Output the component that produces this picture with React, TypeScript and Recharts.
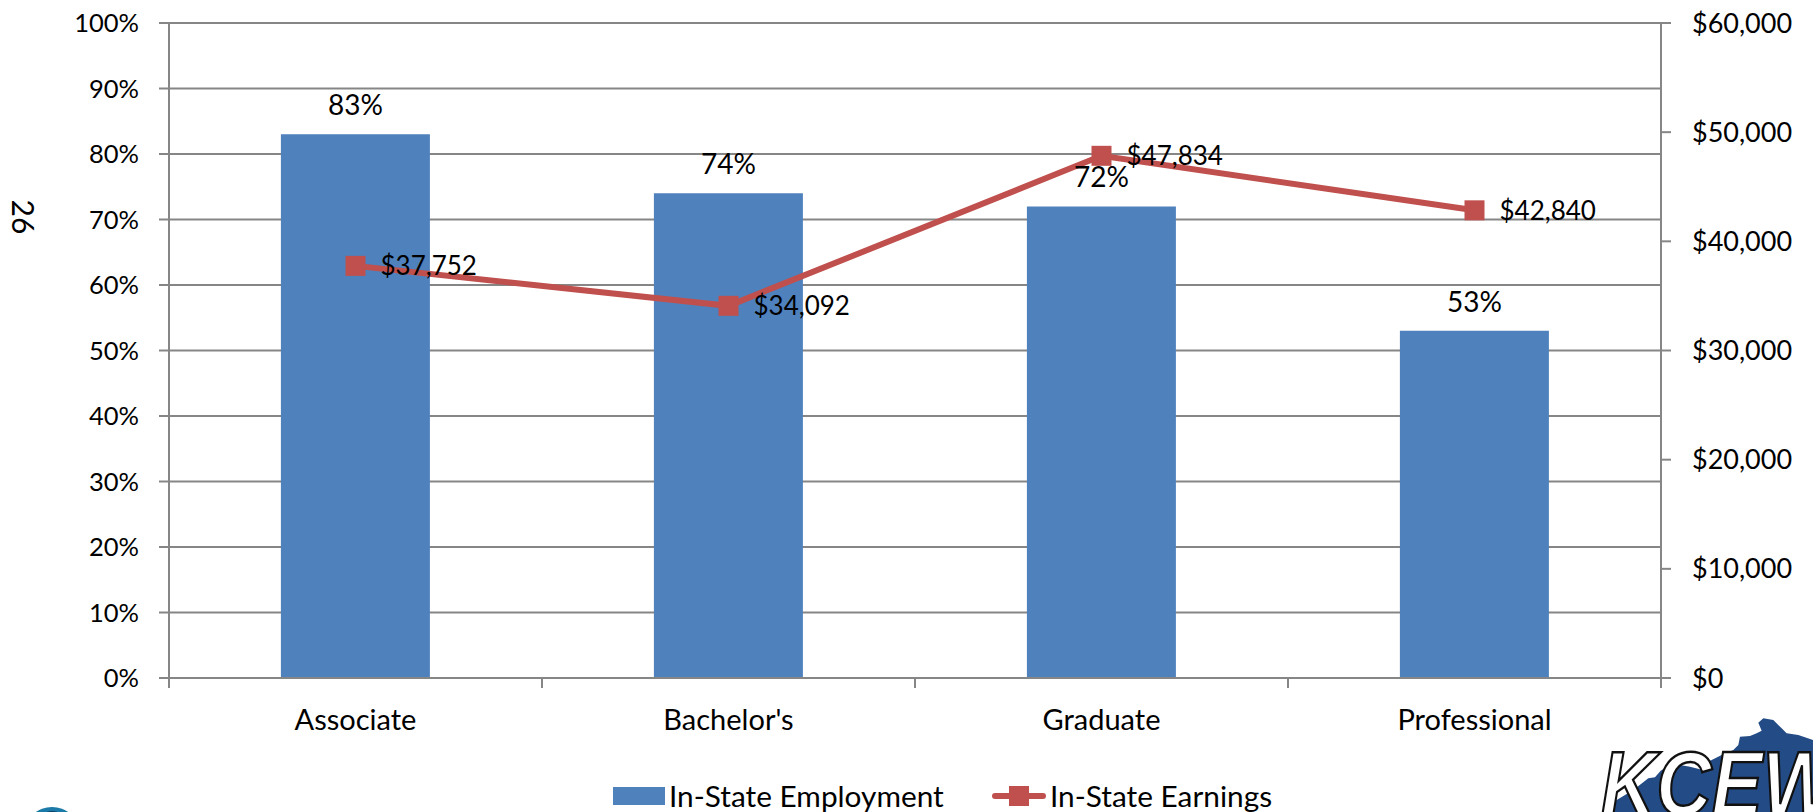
import React from "react";
import { ComposedChart, Bar, Line, XAxis, YAxis, CartesianGrid, LabelList, Legend } from "recharts";

const categories = ["Associate", "Bachelor's", "Graduate", "Professional"];
const employment = [83, 74, 72, 53];
const earnings = [37752, 34092, 47834, 42840];
const pctTicks = [0, 10, 20, 30, 40, 50, 60, 70, 80, 90, 100];
const usdTicks = [0, 10000, 20000, 30000, 40000, 50000, 60000];
const mapOutline = "80,300 130,270 175,235 195,232 212,212 240,195 270,195 300,200 330,208 345,190 365,180 395,165 430,150 445,135 450,110 480,108 500,100 515,92 505,68 520,55 550,60 575,85 590,100 625,105 669,120 669,336 40,336";

const rows = categories.map((c, i) => ({ c, employment: employment[i], earnings: earnings[i] }));
const FONT = "Lato, Carlito, sans-serif";
const GRID = "#868686";
const BLUE = "#4f81bd";
const RED = "#c0504d";
const usd = (v: number) => "$" + v.toLocaleString("en-US");
const BAND = (1813 - 169 - 152) / categories.length;

const Square = (props: any) => {
  const { cx, cy } = props;
  return <rect x={cx - 10} y={cy - 10} width={20} height={20} fill={RED} />;
};

const CategoryTick = (props: any) => {
  const { x, y, payload, index } = props;
  const left = x - BAND / 2;
  const right = x + BAND / 2;
  return (
    <g>
      <line x1={left} x2={left} y1={y - 8} y2={y + 2} stroke={GRID} strokeWidth={2} />
      {index === categories.length - 1 && <line x1={right} x2={right} y1={y - 8} y2={y + 2} stroke={GRID} strokeWidth={2} />}
      <text x={x} y={y + 32} textAnchor="middle" dominantBaseline="central" fill="#000" fontSize={29} fontFamily={FONT}>{payload.value}</text>
    </g>
  );
};

const LegendContent = () => (
  <div style={{ position: "relative", width: 1813, height: 60, fontFamily: FONT, fontSize: 29.8, color: "#000" }}>
    <div style={{ position: "absolute", left: 613, top: 19, width: 52, height: 18, background: BLUE }} />
    <div style={{ position: "absolute", left: 669, top: 10, lineHeight: "36px", whiteSpace: "nowrap" }}>In-State Employment</div>
    <div style={{ position: "absolute", left: 992, top: 25, width: 54, height: 6, borderRadius: 3, background: RED }} />
    <div style={{ position: "absolute", left: 1009, top: 18, width: 20, height: 20, background: RED }} />
    <div style={{ position: "absolute", left: 1050, top: 10, lineHeight: "36px", whiteSpace: "nowrap" }}>In-State Earnings</div>
  </div>
);

export default function App() {
  return (
    <div style={{ position: "absolute", left: 0, top: 0, width: 1813, height: 812, overflow: "hidden", background: "#fff", fontFamily: FONT }}>
      <ComposedChart width={1813} height={812} data={rows} margin={{ top: 23, right: 0, bottom: 14, left: 0 }} barCategoryGap="30%">
        <CartesianGrid vertical={false} stroke={GRID} strokeWidth={2} yAxisId="p" />
        <XAxis dataKey="c" height={60} axisLine={{ stroke: GRID, strokeWidth: 2 }} tickLine={false} tick={<CategoryTick />} interval={0} />
        <YAxis yAxisId="p" width={169} domain={[0, 100]} ticks={pctTicks} tickFormatter={(v: number) => v + "%"} axisLine={{ stroke: GRID, strokeWidth: 2 }} tickLine={{ stroke: GRID, strokeWidth: 2 }} tickSize={10} tickMargin={20} tick={{ fill: "#000", fontSize: 25.5, fontFamily: FONT }} />
        <YAxis yAxisId="u" orientation="right" width={152} domain={[0, 60000]} ticks={usdTicks} tickFormatter={usd} axisLine={{ stroke: GRID, strokeWidth: 2 }} tickLine={{ stroke: GRID, strokeWidth: 2 }} tickSize={10} tickMargin={21} tick={{ fill: "#000", fontSize: 27, fontFamily: FONT }} />
        <Legend content={<LegendContent />} wrapperStyle={{ left: 0, top: 768, width: 1813, height: 60 }} />
        <Bar yAxisId="p" dataKey="employment" name="In-State Employment" fill={BLUE} isAnimationActive={false}>
          <LabelList dataKey="employment" position="top" offset={19} formatter={(v: number) => v + "%"} fill="#000" fontSize={28} fontFamily={FONT} />
        </Bar>
        <Line yAxisId="u" dataKey="earnings" name="In-State Earnings" stroke={RED} strokeWidth={6} dot={<Square />} isAnimationActive={false}>
          <LabelList dataKey="earnings" position="right" offset={25} formatter={usd} fill="#000" fontSize={26} fontFamily={FONT} />
        </Line>
      </ComposedChart>
      <svg width={1813} height={812} style={{ position: "absolute", left: 0, top: 0, pointerEvents: "none" }}>
        <text transform="translate(14,217) rotate(90)" textAnchor="middle" dominantBaseline="central" x={0} y={-10} fill="#000" fontSize={30} fontFamily={FONT}>26</text>
        <ellipse cx={52} cy={830} rx={26} ry={23} fill="#1b7aa8" />
        <ellipse cx={52} cy={835} rx={18} ry={24} fill="#0b3f63" />
        <g transform="translate(1590,700) scale(0.3333)">
          <polygon points={mapOutline} fill="#234b85" />
        </g>
        <text transform="translate(1601,815) scale(0.85,1)" x={0} y={0} fill="#fff" stroke="#111" strokeWidth={2.5} fontSize={90} fontWeight={700} fontStyle="italic" fontFamily="Liberation Sans">KCEW</text>
      </svg>
    </div>
  );
}
